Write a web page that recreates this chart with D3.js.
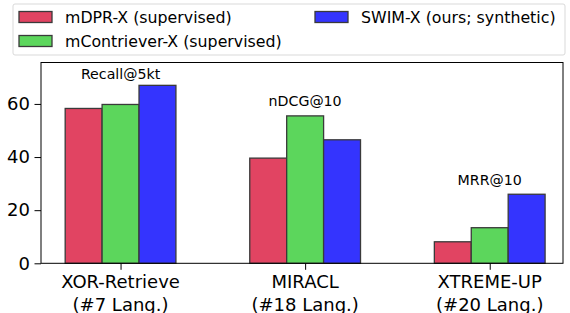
<!DOCTYPE html>
<html><head><meta charset="utf-8">
<script src="https://cdn.jsdelivr.net/npm/d3@7"></script>
<style>body{margin:0;background:#fff}svg{display:block}text{font-family:"DejaVu Sans",sans-serif}</style>
</head><body><svg id="c" width="570" height="313"></svg>
<script>
const categories = ["XOR-Retrieve\n(#7 Lang.)", "MIRACL\n(#18 Lang.)", "XTREME-UP\n(#20 Lang.)"];
const seriesNames = ["mDPR-X (supervised)", "mContriever-X (supervised)", "SWIM-X (ours; synthetic)"];
const mdpr = [58.3, 39.6, 8.1];
const mcontriever = [59.8, 55.5, 13.4];
const swim = [67.0, 46.5, 26.0];
const metricLabels = ["Recall@5kt", "nDCG@10", "MRR@10"];
const metricLabelY = [71.2, 61.1, 31.4];
const yTicks = [0, 20, 40, 60];
const colors = ["#e14462", "#5cd65c", "#3434fe"];

const series = [mdpr, mcontriever, swim];
const svg = d3.select("#c");
const L = 41, R = 563, T = 62.5, B = 263.3;
const x = d3.scaleLinear().domain([-0.431, 2.397]).range([L, R]);
const y = d3.scaleLinear().domain([0, 75.6]).range([B, T]);
const bw = 0.2;

// bars
series.forEach((vals, s) => {
  svg.append("g").selectAll("rect").data(vals).join("rect")
    .attr("x", (d, i) => x(i + (s - 1) * bw - bw / 2))
    .attr("width", (d, i) => x(i + (s - 1) * bw + bw / 2) - x(i + (s - 1) * bw - bw / 2))
    .attr("y", d => y(d))
    .attr("height", d => y(0) - y(d))
    .attr("fill", colors[s])
    .attr("stroke", "#3a3a3a").attr("stroke-width", 1.3);
});

// frame
svg.append("rect").attr("x", L).attr("y", T).attr("width", R - L).attr("height", B - T)
  .attr("fill", "none").attr("stroke", "#000").attr("stroke-width", 1);

// y axis
const ya = svg.append("g").attr("transform", `translate(${L},0)`)
  .call(d3.axisLeft(y).tickValues(yTicks).tickSize(6.5).tickPadding(4.5));
ya.select(".domain").remove();
ya.selectAll("text").attr("font-size", 18).attr("fill", "#000").attr("font-family", "DejaVu Sans");
ya.selectAll("line").attr("stroke", "#000");

// x axis
const xa = svg.append("g").attr("transform", `translate(0,${B})`)
  .call(d3.axisBottom(x).tickValues([0, 1, 2]).tickSize(6.5).tickFormat(""));
xa.select(".domain").remove();
xa.selectAll("line").attr("stroke", "#000");
categories.forEach((c, i) => {
  const lines = c.split("\n");
  lines.forEach((ln, k) => {
    svg.append("text").attr("x", x(i)).attr("y", 281.7 + k * 22.3)
      .attr("text-anchor", "middle").attr("dominant-baseline", "central")
      .attr("font-size", 18).attr("fill", "#000").text(ln);
  });
});

// metric labels
metricLabels.forEach((m, i) => {
  svg.append("text").attr("x", x(i)).attr("y", y(metricLabelY[i]))
    .attr("text-anchor", "middle").attr("dominant-baseline", "central")
    .attr("font-size", 14.2).attr("fill", "#000").text(m);
});

// legend
svg.append("rect").attr("x", 13).attr("y", 4).attr("width", 552).attr("height", 51)
  .attr("rx", 2).attr("fill", "#fff").attr("stroke", "#d9d9d9").attr("stroke-width", 1);
const legPos = [[19, 17], [19, 41], [315, 17]];
seriesNames.forEach((n, s) => {
  const [lx, ly] = legPos[s];
  svg.append("rect").attr("x", lx).attr("y", ly - 5.5).attr("width", 33).attr("height", 11)
    .attr("fill", colors[s]).attr("stroke", "#3a3a3a").attr("stroke-width", 1.3);
  svg.append("text").attr("x", lx + 46).attr("y", ly).attr("dominant-baseline", "central")
    .attr("font-size", 15.8).attr("fill", "#000").text(n);
});
</script></body></html>
